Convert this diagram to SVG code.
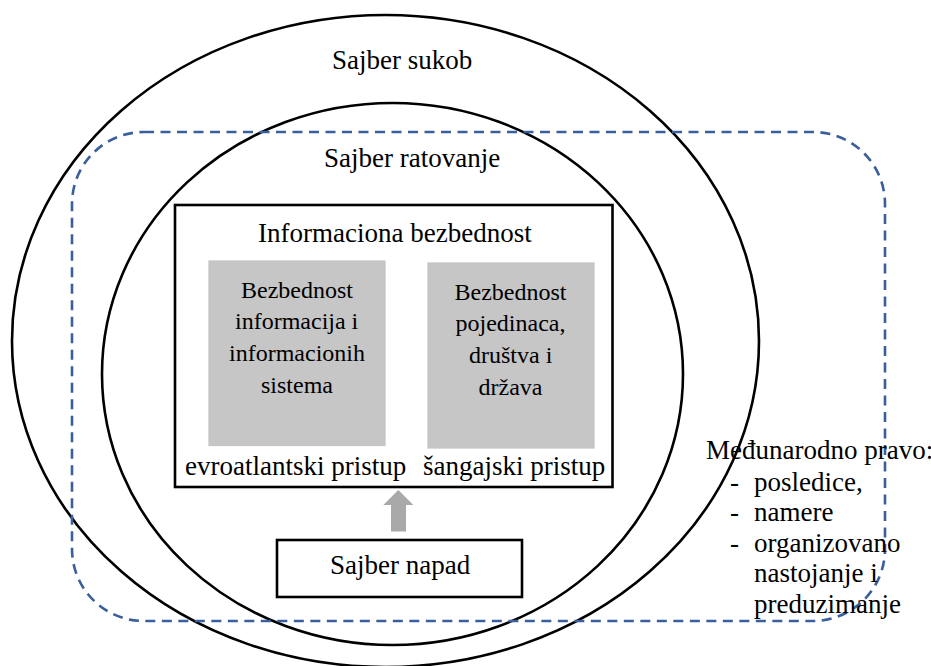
<svg xmlns="http://www.w3.org/2000/svg" width="931" height="666" viewBox="0 0 931 666">
  <rect width="931" height="666" fill="#fff"/>
  <g id="sajber-sukob">
    <ellipse cx="385.5" cy="341" rx="373.5" ry="326" fill="none" stroke="#000" stroke-width="2.6"/>
    <text x="332" y="69" font-size="27" font-family="Liberation Serif">Sajber sukob</text>
  </g>
  <g id="sajber-ratovanje">
    <ellipse cx="392.5" cy="374" rx="290.5" ry="271" fill="none" stroke="#000" stroke-width="2.6"/>
    <text x="324" y="167" font-size="27" font-family="Liberation Serif">Sajber ratovanje</text>
  </g>
  <g id="medjunarodno-pravo">
    <rect x="72" y="132" width="813" height="489" rx="72" ry="72" fill="none" stroke="#3b5f9c" stroke-width="2.6" stroke-dasharray="10 6.5"/>
    <text x="706" y="459" font-size="27" font-family="Liberation Serif">Me&#273;unarodno pravo:</text>
    <text x="730" y="491" font-size="27" font-family="Liberation Serif">-</text>
    <text x="754" y="491" font-size="27" font-family="Liberation Serif">posledice,</text>
    <text x="730" y="521" font-size="27" font-family="Liberation Serif">-</text>
    <text x="754" y="521" font-size="27" font-family="Liberation Serif">namere</text>
    <text x="730" y="552" font-size="27" font-family="Liberation Serif">-</text>
    <text x="754" y="552" font-size="27" font-family="Liberation Serif">organizovano</text>
    <text x="754" y="582" font-size="27" font-family="Liberation Serif">nastojanje i</text>
    <text x="754" y="613" font-size="27" font-family="Liberation Serif">preduzimanje</text>
  </g>
  <g id="informaciona-bezbednost">
    <rect x="175" y="205" width="437.5" height="282" fill="#fff" stroke="#000" stroke-width="2.6"/>
    <text x="258" y="242" font-size="27" font-family="Liberation Serif">Informaciona bezbednost</text>
  </g>
  <g id="bezbednost-informacija">
    <rect x="209" y="261" width="176" height="184.5" fill="#c6c6c6" stroke="#c4c4c4" stroke-width="1.2"/>
    <text x="241" y="298" font-size="24" font-family="Liberation Serif">Bezbednost</text>
    <text x="235" y="329" font-size="24" font-family="Liberation Serif">informacija i</text>
    <text x="229" y="361" font-size="24" font-family="Liberation Serif">informacionih</text>
    <text x="261" y="393" font-size="24" font-family="Liberation Serif">sistema</text>
    <text x="185" y="475" font-size="27" font-family="Liberation Serif">evroatlantski pristup</text>
  </g>
  <g id="bezbednost-pojedinaca">
    <rect x="428" y="263" width="166" height="185" fill="#c6c6c6" stroke="#c4c4c4" stroke-width="1.2"/>
    <text x="454.5" y="300" font-size="24" font-family="Liberation Serif">Bezbednost</text>
    <text x="455.5" y="331" font-size="24" font-family="Liberation Serif">pojedinaca,</text>
    <text x="469" y="363" font-size="24" font-family="Liberation Serif">dru&#353;tva i</text>
    <text x="478.5" y="395" font-size="24" font-family="Liberation Serif">dr&#382;ava</text>
    <text x="423" y="475" font-size="27" font-family="Liberation Serif">&#353;angajski pristup</text>
  </g>
  <g id="sajber-napad">
    <rect x="277" y="540" width="245" height="57" fill="#fff" stroke="#000" stroke-width="2.6"/>
    <text x="330" y="574" font-size="27" font-family="Liberation Serif">Sajber napad</text>
  </g>
  <g id="connectors">
    <polygon fill="#a9a9a9" points="398.3,490 413.3,505 406,505 406,531.5 391,531.5 391,505 383.3,505"/>
  </g>
</svg>
